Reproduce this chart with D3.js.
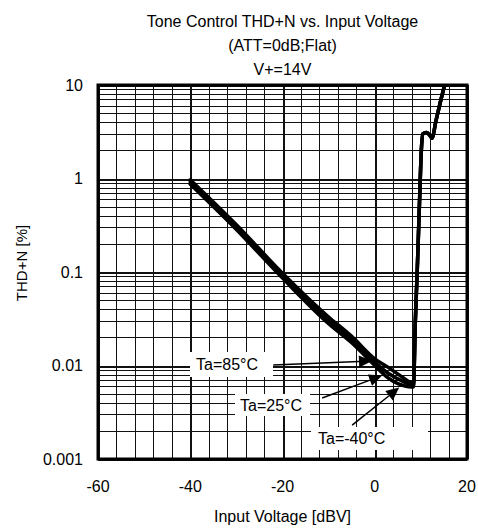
<!DOCTYPE html>
<html>
<head>
<meta charset="utf-8">
<title>Tone Control THD+N vs. Input Voltage</title>
<script src="https://cdn.jsdelivr.net/npm/d3@7"></script>
<style>
body { margin: 0; background: #fff; }
text { font-family: "Liberation Sans", Arial, sans-serif; fill: #000; }
</style>
</head>
<body>
<script>
// chart values
var titleLines = ["Tone Control THD+N vs. Input Voltage", "(ATT=0dB;Flat)", "V+=14V"];
var xTicks = [-60, -40, -20, 0, 20];
var yTicks = [0.001, 0.01, 0.1, 1, 10];
var yTickLabels = ["0.001", "0.01", "0.1", "1", "10"];

// input voltage [dBV]
var vin85 = [-40, -30, -20, -10, -5, 0, 3, 6, 8, 8.4, 8.8, 9.2, 9.7, 10.1, 10.4, 11.2, 11.8, 12.4, 13.3, 14.2, 15.2];
var thd85 = [0.97, 0.32, 0.097, 0.033, 0.0205, 0.0118, 0.0095, 0.0075, 0.0066, 0.0066, 0.03, 0.1, 0.55, 2.0, 3.0, 3.1, 2.95, 2.7, 4.2, 6.5, 10.2];
var vin25 = [-40, -30, -20, -10, -5, 0, 3, 6, 8, 8.4, 8.8, 9.2, 9.7, 10.1, 10.4, 11.2, 11.8, 12.4, 13.3, 14.2, 15.2];
var thd25 = [0.92, 0.30, 0.091, 0.030, 0.019, 0.0108, 0.0082, 0.0068, 0.0062, 0.0062, 0.03, 0.1, 0.55, 2.0, 3.0, 3.1, 2.95, 2.7, 4.2, 6.5, 10.2];
var vinM40 = [-40, -30, -20, -10, -5, 0, 3, 5, 8, 8.4, 8.8, 9.2, 9.7, 10.1, 10.4, 11.2, 11.8, 12.4, 13.3, 14.2, 15.2];
var thdM40 = [0.87, 0.285, 0.086, 0.028, 0.0175, 0.0100, 0.0073, 0.0064, 0.0059, 0.0059, 0.03, 0.1, 0.55, 2.0, 3.0, 3.1, 2.95, 2.7, 4.2, 6.5, 10.2];

// annotation labels: text, tail point, arrow tip (data units)
var noteText = ["Ta=85°C", "Ta=25°C", "Ta=-40°C"];
var noteTail = [[-22.0, 0.0101], [-11.4, 0.0045], [-4.9, 0.0023]];
var noteTip = [[-0.6, 0.0112], [1.6, 0.0078], [5.3, 0.0058]];

var W = 478, H = 528;
var pL = 98, pR = 467, pT = 85, pB = 459;

var svg = d3.select("body").append("svg")
  .attr("width", W)
  .attr("height", H);

var x = d3.scaleLinear().domain([-60, 20]).range([pL, pR]);
var y = d3.scaleLog().domain([0.001, 10]).range([pB, pT]);

function snap(v) { return Math.round(v) + 0.5; }

// grid
var grid = svg.append("g").attr("shape-rendering", "crispEdges");
d3.range(-60, 21, 4).forEach(function(v) {
  var major = (v % 20 == 0);
  grid.append("line")
    .attr("x1", snap(x(v))).attr("x2", snap(x(v)))
    .attr("y1", pT).attr("y2", pB)
    .attr("stroke", "#111")
    .attr("stroke-width", major ? 2 : 1);
});
y.ticks().forEach(function(p) {
  var major = Math.abs(Math.log10(p) - Math.round(Math.log10(p))) < 1e-6;
  grid.append("line")
    .attr("x1", pL).attr("x2", pR)
    .attr("y1", snap(y(p))).attr("y2", snap(y(p)))
    .attr("stroke", "#111")
    .attr("stroke-width", major ? 2 : 1);
});

// curves
svg.append("clipPath").attr("id", "clip")
  .append("rect").attr("x", pL).attr("y", pT)
  .attr("width", pR - pL).attr("height", pB - pT);

var line = d3.line()
  .x(function(d) { return x(d[0]); })
  .y(function(d) { return y(d[1]); })
  .curve(d3.curveMonotoneX);

[[vin85, thd85], [vin25, thd25], [vinM40, thdM40]].forEach(function(s) {
  var pts = s[0].map(function(v, i) { return [v, s[1][i]]; });
  svg.append("path")
    .attr("clip-path", "url(#clip)")
    .attr("d", line(pts))
    .attr("fill", "none")
    .attr("stroke", "#000")
    .attr("stroke-width", 3.5)
    .attr("stroke-linejoin", "round")
    .attr("stroke-linecap", "round");
});

// frame
svg.append("rect")
  .attr("x", pL).attr("y", pT)
  .attr("width", pR - pL).attr("height", pB - pT)
  .attr("fill", "none")
  .attr("stroke", "#000")
  .attr("stroke-width", 3);

// axes labels
svg.selectAll(".xt").data(xTicks).enter().append("text")
  .attr("x", function(d) { return x(d); })
  .attr("y", 492)
  .attr("text-anchor", "middle")
  .attr("font-size", "16px")
  .text(function(d) { return d; });

svg.selectAll(".yt").data(yTicks).enter().append("text")
  .attr("x", 83)
  .attr("y", function(d) { return y(d); })
  .attr("dy", "0.36em")
  .attr("text-anchor", "end")
  .attr("font-size", "16px")
  .text(function(d, i) { return yTickLabels[i]; });

svg.append("text")
  .attr("x", (pL + pR) / 2)
  .attr("y", 522)
  .attr("text-anchor", "middle")
  .attr("font-size", "16px")
  .text("Input Voltage [dBV]");

svg.append("text")
  .attr("transform", "translate(27,263) rotate(-90)")
  .attr("text-anchor", "middle")
  .attr("font-size", "15px")
  .text("THD+N [%]");

titleLines.forEach(function(t, i) {
  svg.append("text")
    .attr("x", (pL + pR) / 2)
    .attr("y", 27 + i * 24)
    .attr("text-anchor", "middle")
    .attr("font-size", "16px")
    .text(t);
});

// annotations
noteText.forEach(function(t, i) {
  var tx = x(noteTail[i][0]), ty = y(noteTail[i][1]);
  var hx = x(noteTip[i][0]), hy = y(noteTip[i][1]);
  var ang = Math.atan2(hy - ty, hx - tx);
  var L = 13, Wd = 6;
  var bx = hx - L * Math.cos(ang), by = hy - L * Math.sin(ang);
  svg.append("line")
    .attr("x1", tx).attr("y1", ty).attr("x2", bx).attr("y2", by)
    .attr("stroke", "#000").attr("stroke-width", 1.5);
  svg.append("path")
    .attr("d", "M" + hx + "," + hy +
      "L" + (bx + Wd * Math.sin(ang)) + "," + (by - Wd * Math.cos(ang)) +
      "L" + (bx - Wd * Math.sin(ang)) + "," + (by + Wd * Math.cos(ang)) + "Z")
    .attr("fill", "#000");
});

var boxes = [[190, 352, 83, 25], [235, 394, 75, 22], [311, 427, 117, 23]];
var textPos = [[196, 370], [240, 411], [318, 444]];
noteText.forEach(function(t, i) {
  svg.append("rect")
    .attr("x", boxes[i][0]).attr("y", boxes[i][1])
    .attr("width", boxes[i][2]).attr("height", boxes[i][3])
    .attr("fill", "#fff");
  svg.append("text")
    .attr("x", textPos[i][0]).attr("y", textPos[i][1])
    .attr("font-size", "16px")
    .text(t);
});
</script>
</body>
</html>
